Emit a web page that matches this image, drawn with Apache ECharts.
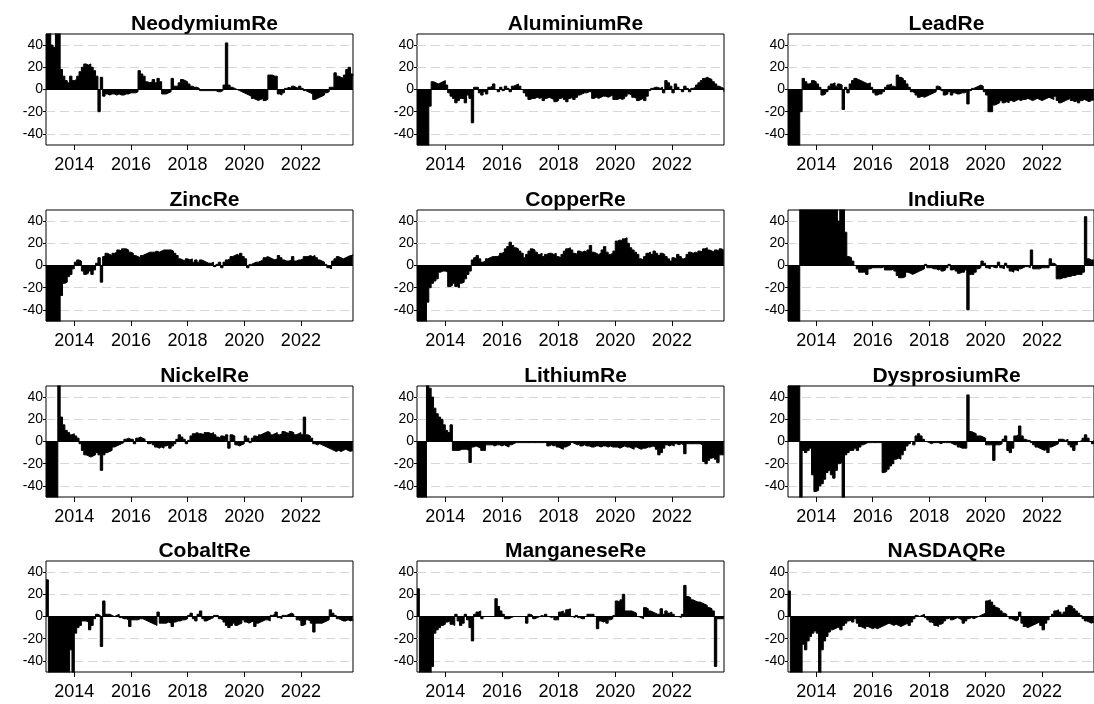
<!DOCTYPE html>
<html>
<head>
<meta charset="utf-8">
<script src="https://cdn.jsdelivr.net/npm/echarts@6/dist/echarts.min.js"></script>
<style>
  html, body { margin: 0; padding: 0; background: #fff; }
  #main { width: 1094px; height: 704px; }
</style>
</head>
<body>
<div id="main"></div>
<script>
// monthly values, Jan 2013 .. Nov 2023
const START_YEAR = 2013;
const END_YEAR = 2023.84;
const YEAR_TICKS = [2014, 2016, 2018, 2020, 2022];
const VALUE_TICKS = [-40, -20, 0, 20, 40];
const GRID_VALUES = [-40, -20, 20, 40];

const PANEL_NAMES = [
  "NeodymiumRe", "AluminiumRe", "LeadRe",
  "ZincRe", "CopperRe", "IndiuRe",
  "NickelRe", "LithiumRe", "DysprosiumRe",
  "CobaltRe", "ManganeseRe", "NASDAQRe",
];

const neodymium = [
  60, 60, 40, 38, 60, 55, 18, 12, 8, 6, 12, 8,
  9, 12, 16, 20, 23, 22, 23, 20, 17, 12, -20, 11,
  -6, -4, -5, -4, -4, -5, -4, -5, -5, -4, -4, -3,
  -3, -3, -2, 17, 14, 12, 7, 6, 7, 9, 6, 10,
  7, -4, -4, -3, -2, 10, 3, 3, 6, 9, 8, 7,
  5, 3, 2, 2, 1, -1, -1, -1, -1, -1, -1, -1,
  -2, -2, -1, 4, 42, 4, 2, 1, 0, -1, -2, -3,
  -4, -5, -6, -8, -9, -10, -9, -8, -10, -9, 13, 13,
  12, 12, -4, -5, -3, 1, 2, 1, 3, 2, 1, 3,
  1, -1, -2, -3, -4, -9, -8, -7, -6, -5, -3, -2,
  2, 2, 15, 12, 11, 10, 13, 18, 20, 14, 12,
];
const aluminium = [
  -60, -60, -60, -60, -60, -15, 7, 6, 5, 6, 7, 8,
  4, -3, -6, -8, -12, -10, -8, -8, -12, -5, -8, -30,
  2, 2, -3, -5, -2, -4, 2, 3, 5, 0, -2, 2,
  -1, 3, 1, -2, 3, 4, 5, 3, 0, -3, -6, -9,
  -8, -8, -7, -8, -7, -10, -8, -7, -8, -9, -11, -10,
  -8, -7, -9, -11, -8, -7, -9, -7, -5, -4, -3, -3,
  -2, -2, -8, -7, -8, -7, -6, -6, -7, -6, -5, -9,
  -9, -8, -9, -8, -6, -4, -5, -7, -8, -10, -9, -8,
  -10, -6, -1, 1, 2, 2, 1, 2, -3, 8, 6, 3,
  -3, 5, 2, 0, -2, 3, 1, -2, 1, 2, 4, 6,
  8, 10, 11, 10, 9, 7, 5, 3, 2, 1, -2,
];
const lead = [
  -60, -60, -60, -60, -60, -20, 10, 7, 5, 6, 8, 7,
  5, 2, -5, -4, -2, 3, 5, 6, 3, 5, 4, -18,
  2, -3, 5, 8, 10, 9, 8, 7, 6, 5, 6, 2,
  -3, -5, -4, -4, -2, 2, 4, 5, 3, 2, 13, 11,
  10, 8, 5, 2, -2, -3, -5, -7, -6, -7, -6, -5,
  -4, -3, -2, 3, 2, -1, -5, -4, -2, -5, -3, -4,
  -4, -3, -3, -2, -13, -1, 1, 2, 3, 4, 3, -2,
  -5, -20, -20, -14, -13, -12, -10, -12, -11, -12, -10, -11,
  -10, -9, -10, -9, -9, -8, -9, -10, -9, -8, -9, -10,
  -9, -8, -7, -8, -9, -6, -10, -12, -11, -10, -9, -8,
  -10, -11, -10, -12, -10, -9, -10, -11, -10, -9, -10,
];
const zinc = [
  -60, -60, -60, -60, -60, -60, -27, -16, -15, -10, -8, -3,
  3, 5, 4, -5, -8, -7, -5, -8, -4, 2, 7, -15,
  8, 11, 10, 9, 11, 12, 14, 13, 15, 15, 14, 12,
  11, 9, 8, 7, 9, 10, 11, 12, 12, 12, 13, 12,
  13, 14, 14, 14, 14, 13, 11, 9, 6, 5, 4, 6,
  5, 6, 3, 5, 3, 5, 4, 3, 2, 2, 3, -1,
  1, 3, -2, 3, 5, 6, 8, 9, 10, 9, 11, 8,
  6, -2, 1, 2, 3, 3, 4, 5, 7, 8, 7, 6,
  5, 6, 9, 7, 5, 4, 4, 5, 8, 4, 5, 5,
  6, 8, 8, 9, 8, 9, 7, 5, 4, 3, 1, -2,
  -3, 4, 6, 8, 7, 6, 7, 8, 9, 9, 10,
];
const copper = [
  -60, -60, -60, -60, -33, -20, -16, -14, -12, -6, -5, -5,
  -6, -19, -18, -16, -19, -20, -16, -15, -12, -8, -5, 5,
  7, 9, 6, 3, 4, 6, 7, 8, 8, 8, 9, 11,
  12, 15, 17, 21, 18, 16, 15, 13, 11, 7, 10, 13,
  15, 14, 12, 10, 11, 8, 10, 11, 11, 10, 11, 8,
  7, 10, 13, 15, 16, 14, 11, 10, 13, 12, 13, 12,
  14, 18, 12, 11, 10, 11, 14, 17, 12, 10, 11, 13,
  22, 23, 22, 24, 25, 20, 16, 14, 12, 10, 6, 5,
  8, 11, 12, 10, 13, 11, 9, 11, 10, 8, 6, 4,
  7, 6, 10, 8, 6, 7, 10, 12, 11, 12, 11, 13,
  12, 15, 16, 14, 13, 12, 14, 13, 15, 14, 14,
];
const indiu = [
  -60, -60, -60, -60, -60, 60, 60, 60, 60, 60, 60, 60,
  60, 60, 60, 60, 60, 60, 60, 60, 60, 40, 60, 60,
  30, 8, 7, 4, 0, -3, -6, -6, -6, -8, -3, -2,
  -2, -2, -2, -2, -1, -4, -4, -4, -3, -5, -9, -11,
  -11, -10, -6, -7, -8, -7, -6, -5, -4, -3, 1, -2,
  -2, -3, -3, -4, -3, -5, -4, -2, 1, -4, -3, -5,
  -7, -6, -6, -4, -40, -8, -8, -6, -3, -2, 4, 2,
  -2, -3, -1, -2, -2, 3, -2, -3, 2, -2, -5, -6,
  -4, -5, -3, -2, -1, -1, -2, 14, -3, -3, -3, -2,
  -2, -2, -2, 6, 2, 1, -12, -12, -11, -11, -10, -10,
  -9, -9, -8, -8, -8, -6, 44, 6, 5, 5, 4,
];
const nickel = [
  -60, -60, -60, -60, -60, 60, 22, 15, 10, 8, 6, 7,
  5, 3, -2, -8, -12, -13, -14, -13, -12, -10, -12, -26,
  -12, -10, -9, -8, -5, -4, -3, -2, -1, 2, 3, 2,
  2, -2, 3, 4, 3, 2, 0, -2, -1, -3, -5, -6,
  -5, -6, -4, -3, -6, -4, -2, 2, 6, 4, 2, -2,
  1, 5, 7, 8, 7, 7, 6, 8, 8, 7, 8, 6,
  4, 3, 5, 4, 6, -6, 6, 5, -3, -4, -3, -2,
  5, 3, -1, 3, 5, 4, 6, 7, 8, 9, 8, 6,
  7, 8, 6, 7, 9, 8, 7, 9, 8, 6, 7, 8,
  6, 22, 6, 5, 3, -2, -3, -2, -3, -4, -5, -6,
  -7, -8, -9, -8, -9, -8, -7, -8, -9, -8, -8,
];
const lithium = [
  -60, -60, -60, -60, 60, 48, 40, 30, 25, 22, 20, 15,
  10, 8, 15, -8, -8, -8, -7, -7, -7, -8, -19, -5,
  -4, -5, -6, -8, -8, -3, -3, -3, -4, -3, -3, -4,
  -3, -4, -5, -3, -2, -1, -1, -1, -1, -1, -1, -1,
  -1, -1, -1, -1, -1, -1, -1, -4, -3, -4, -3, -5,
  -6, -7, -5, -4, -3, -1, -2, -3, -2, -4, -3, -4,
  -4, -5, -5, -4, -4, -5, -4, -4, -5, -4, -5, -5,
  -5, -6, -5, -4, -5, -5, -6, -7, -5, -6, -7, -6,
  -6, -5, -5, -4, -5, -7, -12, -10, -6, -3, -4, -3,
  -4, -2, -3, -2, -3, -11, -2, -2, -2, -2, -2, -2,
  -3, -18, -20, -17, -15, -14, -16, -19, -12, -12, -12,
];
const dysprosium = [
  60, 60, 60, 60, 60, -60, -8, -10, -8, -6, -30, -45,
  -44, -40, -38, -34, -28, -26, -30, -33, -26, -20, -19, -60,
  -12, -10, -8, -8, -6, -8, -5, -3, -2, -1, -1, -1,
  -1, -1, -1, -1, -28, -27, -25, -22, -20, -16, -15, -16,
  -12, -8, -4, -2, 0, -3, 5, 7, 5, 2, 0, -1,
  -2, -1, -1, -1, -2, -1, -1, -1, -1, -2, -3, -3,
  -5, -6, -6, -6, 42, 9, 8, 7, 5, 5, 4, 3,
  -3, -3, -3, -17, -3, -3, -2, 2, 5, -8, -10, -6,
  5, 6, 14, 5, 2, 1, 1, -1, -3, -5, -6, -7,
  -8, -7, -10, -5, -4, -3, -2, 2, 2, 1, 2, -3,
  -5, -8, -3, 0, 1, 3, 6, 3, 0, -2, 1,
];
const cobalt = [
  33, -60, -60, -60, -60, -60, -60, -60, -60, -60, -30, -60,
  -15, -10, -8, -4, -4, -5, -12, -8, -2, 2, 1, -27,
  14, 2, 2, 1, 0, 1, 2, -1, -2, -2, -3, -9,
  -3, -3, -3, -2, -2, -3, -4, -5, -6, -7, -8, 4,
  -6, -6, -6, -5, -6, -9, -5, -4, -4, -3, -3, -2,
  1, 3, -2, -4, 2, 5, -2, -4, -3, -2, -1, 1,
  1, -2, -3, -5, -8, -10, -8, -6, -8, -7, -6, -3,
  -5, -6, -5, -4, -9, -6, -5, -4, -3, -3, -4, 1,
  2, 4, -1, -2, 1, 1, 2, 3, 2, 0, -3, -4,
  -8, -7, -3, -4, -6, -14, -6, -6, -6, -5, -4, -3,
  6, 3, 1, -2, -3, -4, -4, -3, -4, -3, -4,
];
const manganese = [
  25, -60, -60, -60, -60, -60, -45, -15, -12, -10, -8, -7,
  -5, -4, -7, -8, 2, -4, -8, -6, 2, -3, -10, -22,
  2, 4, 5, -2, 0, 0, 0, 0, 0, 16, 9, 5,
  2, -2, -2, -1, 0, 0, 0, 0, 0, 0, -6, 2,
  1, -2, -1, 0, 1, 0, 2, 0, -1, 0, -3, -3,
  4, 5, 3, 6, 7, 0, -1, 1, -1, -2, -2, 0,
  2, 2, 2, 0, -11, -4, -5, -4, -6, -3, -2, 1,
  14, 13, 15, 20, 5, 5, 5, 4, 3, 0, -1, -2,
  8, 7, 5, 4, 3, 2, 2, 7, 2, 5, 3, 4,
  2, 0, 0, -1, 2, 28, 18, 17, 15, 14, 13, 13,
  12, 11, 10, 8, 7, 5, -45, -2, -2, -2, -2,
];
const nasdaq = [
  23, -60, -60, -60, -60, -60, -25, -30, -22, -18, -15, -13,
  -15, -55, -30, -22, -18, -14, -12, -11, -10, -10, -12, -8,
  -6, -4, -3, -5, -2, -6, -9, -10, -11, -9, -10, -11,
  -10, -11, -10, -9, -8, -7, -6, -7, -8, -7, -8, -9,
  -8, -7, -6, -8, -5, -2, 1, 0, 1, 2, -1, -3,
  -5, -6, -8, -9, -7, -6, -4, -2, -1, -3, -2, -1,
  -2, -3, -6, -4, -2, -1, -2, -1, 0, 1, 2, 3,
  14, 15, 13, 10, 8, 7, 5, 3, 2, 0, -2, -3,
  -4, -3, 4, -6, -9, -10, -9, -8, -7, -6, -5, -8,
  -12, -6, -3, 0, 2, 5, 6, 4, 2, 4, 8, 10,
  9, 7, 5, 3, 1, -2, -4, -5, -6, -5, -6,
];

const PANEL_VALUES = [
  neodymium, aluminium, lead,
  zinc, copper, indiu,
  nickel, lithium, dysprosium,
  cobalt, manganese, nasdaq,
];

const COL_LEFT = [46, 417, 788];
const ROW_TOP = [34, 210, 386, 561];
const PLOT_W = 307;
const PLOT_H = 111;
const FONT = "'Liberation Sans', Arial, sans-serif";

const chart = echarts.init(document.getElementById("main"), null, { renderer: "canvas" });

const grids = [], xAxes = [], yAxes = [], series = [], titles = [];

PANEL_NAMES.forEach((name, i) => {
  const row = Math.floor(i / 3);
  const col = i % 3;
  const left = COL_LEFT[col];
  const top = ROW_TOP[row];

  grids.push({
    left: left, top: top, width: PLOT_W, height: PLOT_H,
    show: true, backgroundColor: "#fff",
    borderColor: "#000", borderWidth: 1,
  });

  titles.push({
    text: name,
    left: left + PLOT_W / 2,
    top: top - 25,
    textAlign: "center",
    textStyle: { fontFamily: FONT, fontSize: 21, fontWeight: "bold", color: "#000" },
  });

  xAxes.push({
    type: "value", gridIndex: i,
    min: START_YEAR, max: END_YEAR,
    axisLine: { show: false, onZero: false },
    axisTick: { show: true, length: 5, customValues: YEAR_TICKS, lineStyle: { color: "#000" } },
    axisLabel: {
      customValues: YEAR_TICKS, margin: 11,
      color: "#000", fontFamily: FONT, fontSize: 18,
      formatter: (v) => String(v),
    },
    splitLine: { show: false },
  });

  yAxes.push({
    type: "value", gridIndex: i,
    min: -50, max: 50,
    axisLine: { show: false },
    axisTick: { show: true, length: 3, customValues: VALUE_TICKS, lineStyle: { color: "#000" } },
    axisLabel: {
      customValues: VALUE_TICKS, margin: 3,
      color: "#000", fontFamily: FONT, fontSize: 14,
    },
    splitLine: { show: false },
  });

  // dashed reference lines behind the bars
  series.push({
    type: "line", xAxisIndex: i, yAxisIndex: i,
    data: [], silent: true, z: 1,
    markLine: {
      silent: true, symbol: "none", z: 1,
      label: { show: false },
      lineStyle: { color: "#d6d6d6", width: 1, type: [9, 5] },
      data: GRID_VALUES.map((v) => ({ yAxis: v })),
    },
  });

  series.push({
    name: name,
    type: "line", xAxisIndex: i, yAxisIndex: i,
    data: PANEL_VALUES[i].map((v, m) => [START_YEAR + m / 12, v]),
    step: "end",
    symbol: "none",
    clip: true,
    z: 3,
    lineStyle: { color: "#000", width: 1 },
    areaStyle: { color: "#000", opacity: 1 },
    markLine: {
      silent: true, symbol: "none", z: 6,
      label: { show: false },
      lineStyle: { color: "#000", width: 1, type: "solid" },
      data: [{ yAxis: 0 }],
    },
  });
});

chart.setOption({
  animation: false,
  backgroundColor: "#fff",
  title: titles,
  grid: grids,
  xAxis: xAxes,
  yAxis: yAxes,
  series: series,
});
</script>
</body>
</html>
